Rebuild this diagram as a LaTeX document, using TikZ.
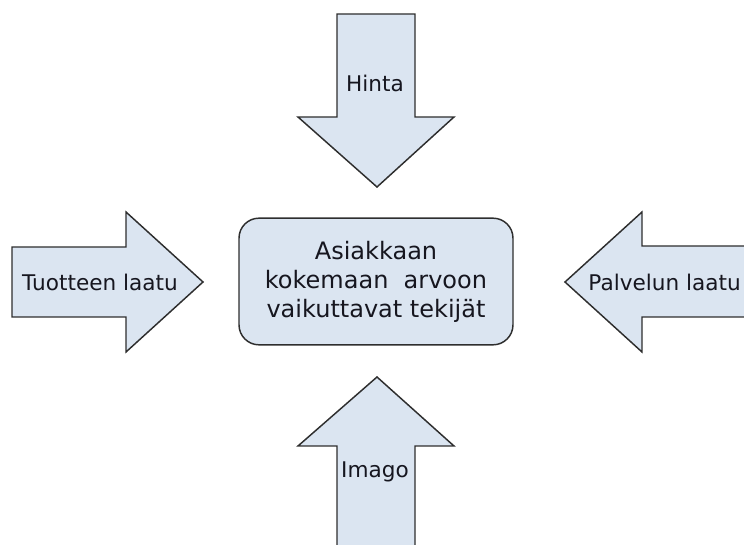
\documentclass[tikz,border=0pt]{standalone}
\usepackage{fontspec}
\setmainfont{DejaVu Sans}
\definecolor{boxfill}{HTML}{DBE5F1}
\definecolor{edge}{HTML}{2E2E2E}
\definecolor{ink}{HTML}{16161F}
\begin{document}
\begin{tikzpicture}[x=0.75pt,y=-0.75pt,
  shapebox/.style={fill=boxfill,draw=edge,line width=1.1pt,line join=miter},
  lbl/.style={font=\fontsize{16.2}{19}\selectfont,text=ink,inner sep=0pt},
  ctext/.style={font=\fontsize{18}{21.5}\selectfont,text=ink,align=center,inner sep=0pt}]
\useasboundingbox (0,0) rectangle (744,545);
\clip (0,0) rectangle (744,545);
% top arrow
\draw[shapebox] (337,14) -- (415,14) -- (415,117) -- (454,117) -- (377,187) -- (298,117) -- (337,117) -- cycle;
% left arrow
\draw[shapebox] (12,247) -- (126,247) -- (126,212) -- (203,282) -- (126,352) -- (126,317) -- (12,317) -- cycle;
% right arrow
\draw[shapebox] (760,246) -- (642,246) -- (642,212) -- (565,282) -- (642,352) -- (642,317) -- (760,317);
\fill[boxfill] (643,247) rectangle (760,316);
% bottom arrow
\draw[shapebox] (337,560) -- (337,446) -- (298,446) -- (377,377) -- (454,446) -- (415,446) -- (415,560);
\fill[boxfill] (338,447) rectangle (414,560);
% centre box
\node[shapebox,rounded corners=15pt,minimum width=205.5pt,minimum height=95pt,inner sep=0pt] (centre) at (376,281.5) {};
\node[ctext] (ctxt) at (376,282) {Asiakkaan\\kokemaan\ \ arvoon\\vaikuttavat tekijät};
% labels
\node[lbl] (hinta) at (375,83) {Hinta};
\node[lbl] (tuote) at (100,282) {Tuotteen laatu};
\node[lbl,anchor=east] (palvelu) at (741,282) {Palvelun laatu};
\node[lbl] (imago) at (375,472) {Imago};
\end{tikzpicture}
\end{document}
